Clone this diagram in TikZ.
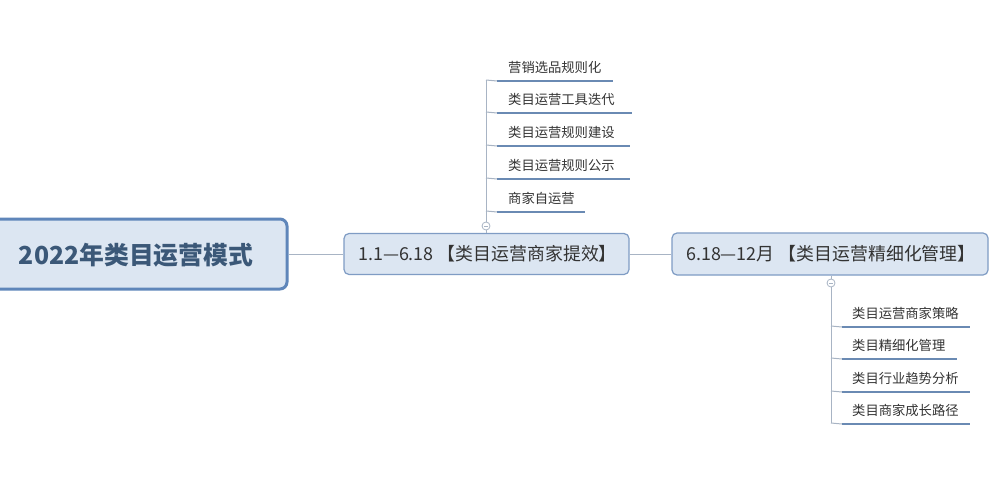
\documentclass[tikz,border=0pt]{standalone}
\usepackage{fontspec}
\setmainfont{Noto Sans CJK SC}
\newfontfamily\cjk{Noto Sans CJK SC}
\definecolor{boxfill}{HTML}{DCE6F2}
\definecolor{boxline}{HTML}{7F9CC4}
\definecolor{rootline}{HTML}{5F86BA}
\definecolor{roottext}{HTML}{3B5878}
\definecolor{txt}{HTML}{333333}
\definecolor{uline}{HTML}{6A8AB3}
\definecolor{conn}{HTML}{A8B4C4}
\tikzset{
  rootbox/.style={draw=rootline, line width=3pt, fill=boxfill, rounded corners=7pt, inner sep=0pt},
  mainbox/.style={draw=boxline, line width=1.2pt, fill=boxfill, rounded corners=5pt, inner sep=0pt},
  itemtext/.style={anchor=west, inner sep=0pt, text=txt, font=\cjk\fontsize{13.3}{13.3}\selectfont},
  boxtext/.style={anchor=west, text=txt, inner sep=0pt, font=\cjk\fontsize{17.9}{17.9}\selectfont},
  ul/.style={draw=uline, line width=2.8pt},
  cn/.style={draw=conn, line width=1pt},
  knob/.style={circle, draw=conn, fill=white, line width=0.8pt, minimum size=8pt, inner sep=0pt},
}
\begin{document}
\begin{tikzpicture}[x=1pt,y=-1pt]
\useasboundingbox (0,0) rectangle (1000,500);
\fill[white] (0,0) rectangle (1000,500);
\begin{scope}
\clip (0,0) rectangle (1000,500);
% root
\node[rootbox, minimum width=310, minimum height=70] (root) at (132,254) {};
\node[text=roottext, font=\cjk\fontsize{24.8}{24.8}\selectfont\bfseries, inner sep=0pt] (roott) at (136,255) {2022年类目运营模式};
% main boxes
\node[mainbox, minimum width=285, minimum height=41] (b1) at (486.5,254) {};
\node[boxtext] (b1t) at (358,254) {1.1—6.18 【类目运营商家提效】};
\node[mainbox, minimum width=316, minimum height=42] (b2) at (830,254) {};
\node[boxtext] (b2t) at (686,254) {6.18—12月 【类目运营精细化管理】};
\draw[cn] (root.east) -- (b1.west);
\draw[cn] (b1.east) -- (b2.west);
% top branch
\node[knob] (k1) at (486,226) {};
\draw[conn, line width=0.6pt] ([xshift=-2pt]k1.center) -- ([xshift=2pt]k1.center);
\coordinate (v1top) at (486,80);
\draw[cn] (k1.north) -- (v1top);
\draw[cn] (b1.north -| k1) -- (k1.south);
\foreach \i/\y/\xe/\t in {1/81/613/营销选品规则化, 2/113/632/类目运营工具迭代, 3/146/630/类目运营规则建设, 4/179/630/类目运营规则公示, 5/212/585/商家自运营}{
  \coordinate (ua\i) at (497,\y);
  \coordinate (ub\i) at (\xe,\y);
  \coordinate (uv\i) at (486,\y-1);
  \draw[cn] (uv\i) -- (ua\i);
  \draw[ul] (ua\i) -- (ub\i);
  \node[itemtext] (ti\i) at (508,\y-14) {\t};
}
% bottom branch
\node[knob] (k2) at (831,283) {};
\draw[conn, line width=0.6pt] ([xshift=-2pt]k2.center) -- ([xshift=2pt]k2.center);
\draw[cn] (b2.south -| k2) -- (k2.north);
\coordinate (v2bot) at (831,423);
\draw[cn] (k2.south) -- (v2bot);
\foreach \i/\y/\xe/\t in {1/327/970/类目运营商家策略, 2/359/957/类目精细化管理, 3/392/970/类目行业趋势分析, 4/424/970/类目商家成长路径}{
  \coordinate (la\i) at (842,\y);
  \coordinate (lb\i) at (\xe,\y);
  \coordinate (lv\i) at (831,\y-1);
  \draw[cn] (lv\i) -- (la\i);
  \draw[ul] (la\i) -- (lb\i);
  \node[itemtext] (tl\i) at (852,\y-14) {\t};
}
\end{scope}
\end{tikzpicture}
\end{document}
